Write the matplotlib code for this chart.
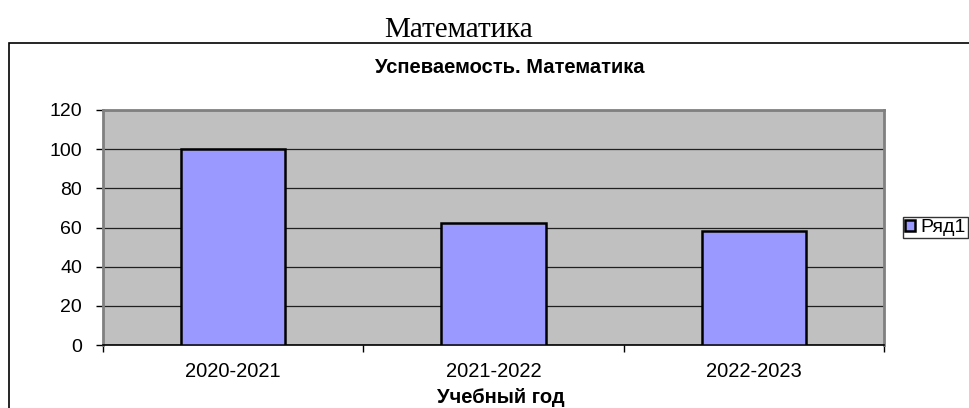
import matplotlib
matplotlib.use("Agg")
import matplotlib.pyplot as plt
from matplotlib.patches import Rectangle

# данные
years = ['2020-2021', '2021-2022', '2022-2023']
values = [100, 62.5, 58.3]
series_name = 'Ряд1'
y_ticks = [0, 20, 40, 60, 80, 100, 120]

W, H = 969, 408
fig = plt.figure(figsize=(W / 100, H / 100), dpi=100)
sans = ['Liberation Sans', 'DejaVu Sans']

# внешняя рамка диаграммы
fig.patches.append(Rectangle((9 / W, -0.1), 1.2, (H - 43) / H + 0.1,
                             transform=fig.transFigure, fill=False,
                             edgecolor='black', linewidth=1.2))

fig.text(458.5 / W, 1 - 36.7 / H, 'Математика', family=['Liberation Serif', 'DejaVu Serif'],
         fontsize=21, ha='center', va='baseline')
fig.text(510 / W, 1 - 73.3 / H, 'Успеваемость. Математика', family=sans,
         fontsize=14.5, fontweight='bold', ha='center', va='baseline')

ax = fig.add_axes([103 / W, (H - 345) / H, (884 - 103) / W, (345 - 110) / H])
ax.set_facecolor('#c0c0c0')

x = range(len(years))
ax.bar(x, values, width=0.4, color='#9999ff', edgecolor='black', linewidth=1.8,
       label=series_name, zorder=3)

ax.set_xlim(-0.5, len(years) - 0.5)
ax.set_ylim(0, 120)
ax.set_yticks(y_ticks)
ax.set_yticklabels([str(v) for v in y_ticks], family=sans, fontsize=14)
ax.yaxis.grid(True, color='#202020', linewidth=0.9)
ax.set_axisbelow(True)

ax.set_xticks(list(x))
ax.set_xticklabels(years, family=sans, fontsize=14.5)
ax.set_xticks([i - 0.5 for i in range(len(years) + 1)], minor=True)
ax.tick_params(axis='x', which='major', length=0, pad=12)
ax.tick_params(axis='x', which='minor', length=5, width=1, color='black')
ax.tick_params(axis='y', length=5, width=1, color='black', pad=10)

ax.set_xlabel('Учебный год', family=sans, fontsize=14.5, fontweight='bold')
ax.xaxis.label.set_va('baseline')
ax.xaxis.set_label_coords((501 - 103) / 781, (345 - 403) / 235)

for s in ['top', 'right', 'left']:
    ax.spines[s].set_color('#808080')
    ax.spines[s].set_linewidth(2)
ax.spines['bottom'].set_color('black')
ax.spines['bottom'].set_linewidth(1.2)

leg = fig.legend(loc='center left', bbox_to_anchor=(903 / W, 1 - 227.5 / H),
                 prop={'family': sans, 'size': 14}, frameon=True, fancybox=False,
                 handlelength=0.5, handleheight=0.5, handletextpad=0.25,
                 borderpad=0.12, borderaxespad=0)
leg.get_frame().set_edgecolor('black')
leg.get_frame().set_linewidth(1)

fig.savefig('out.png', dpi=100)
